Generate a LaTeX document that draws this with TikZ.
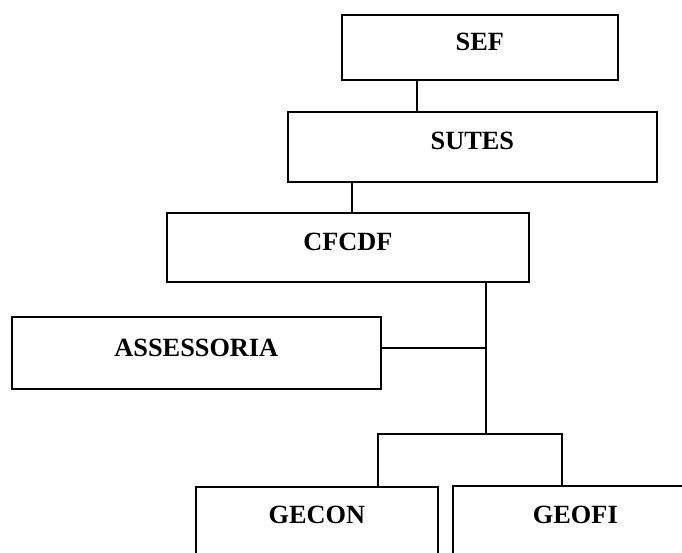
\documentclass[tikz,border=0pt]{standalone}
\usepackage{fontspec}
\setmainfont{Liberation Serif}
\begin{document}
\begin{tikzpicture}[x=1pt,y=1pt,
  unitshape/.style={anchor=north west, inner sep=0pt, outer sep=0.85pt,
    font=\fontsize{26.3}{30}\selectfont\bfseries,
    text height=20pt, text depth=14pt},
  unit/.style={unitshape, draw, line width=1.7pt},
  link/.style={line width=1.7pt}]
\useasboundingbox (0,0) rectangle (682,-552);
\fill[white] (0,0) rectangle (682,-552);

% organisational units
\node[unit, minimum width=276pt, minimum height=65pt] (SEF)   at (341,-14)  {SEF};
\node[unit, minimum width=369pt, minimum height=70pt] (SUTES) at (287,-111) {SUTES};
\node[unit, minimum width=362pt, minimum height=69pt] (CFCDF) at (166,-212) {CFCDF};
\node[unit, minimum width=369pt, minimum height=72pt, text depth=12pt] (ASS) at (11,-316) {ASSESSORIA};
\node[unit, minimum width=242pt, minimum height=68pt] (GECON) at (195,-486) {GECON};
% this unit runs past the right edge of the page: only its left and top sides show
\node[unitshape, minimum width=243pt, minimum height=68pt] (GEOFI) at (453,-486) {GEOFI};
\draw[link] (GEOFI.south west) -- (GEOFI.north west) -- (GEOFI.north east);

% hierarchy lines
\draw[link] ([xshift=76pt]SEF.south west) coordinate (s1) -- (s1 |- SUTES.north);
\draw[link] ([xshift=65pt]SUTES.south west) coordinate (s2) -- (s2 |- CFCDF.north);
\draw[link] ([xshift=320pt]CFCDF.south west) coordinate (trunk) -- ++(0,-151) coordinate (bus);
\draw[link] ([yshift=5pt]ASS.east) -- ([yshift=5pt]ASS.east -| trunk);
\draw[link] ([xshift=183pt]GECON.north west) |- (bus) -| ([xshift=109pt]GEOFI.north west);
\end{tikzpicture}
\end{document}
